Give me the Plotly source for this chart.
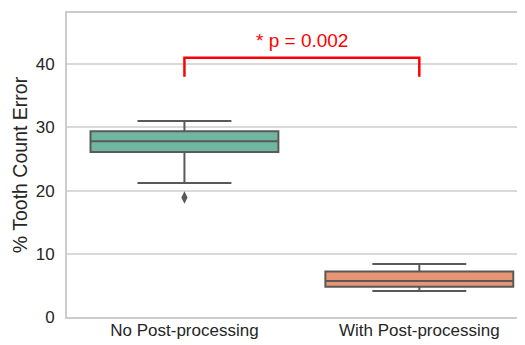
import plotly.graph_objects as go

categories = ["No Post-processing", "With Post-processing"]
q1 = [26.1, 4.8]
median = [27.8, 5.7]
q3 = [29.4, 7.2]
lower_whisker = [21.2, 4.1]
upper_whisker = [31.0, 8.4]
outlier_cat = ["No Post-processing"]
outlier_val = [18.9]
fill_colors = ["#71b6a1", "#e99575"]
bracket_y = [38.0, 41.0, 41.0, 38.0]
annot_text = "* p = 0.002"
annot_y = 43.8
y_ticks = [0, 10, 20, 30, 40]

edge = "#595959"
font_family = "Liberation Sans, Arial, sans-serif"

fig = go.Figure()
for i, c in enumerate(categories):
    fig.add_trace(go.Box(
        x=[c], q1=[q1[i]], median=[median[i]], q3=[q3[i]],
        lowerfence=[lower_whisker[i]], upperfence=[upper_whisker[i]],
        width=0.8, whiskerwidth=0.5, fillcolor=fill_colors[i],
        line=dict(color=edge, width=2), boxpoints=False, showlegend=False,
    ))

fig.add_trace(go.Scatter(
    x=outlier_cat, y=outlier_val, mode="markers",
    marker=dict(symbol="diamond-tall", size=9, color=edge), showlegend=False,
))

fig.add_trace(go.Scatter(
    x=[categories[0], categories[0], categories[1], categories[1]], y=bracket_y,
    mode="lines", line=dict(color="#ff0000", width=2.5), showlegend=False,
))

fig.add_annotation(x=0.5, y=annot_y, text=annot_text, showarrow=False,
                   font=dict(color="#ff0000", size=19, family=font_family))

# page body has an 8px default margin, so the figure is 8px smaller
fig.update_layout(
    width=517, height=337,
    margin=dict(l=59, r=0, t=5, b=28, autoexpand=False),
    paper_bgcolor="white", plot_bgcolor="white",
    font=dict(family=font_family, color="#262626", size=17),
    xaxis=dict(type="category", range=[-0.5, 1.45], showgrid=False,
               showline=True, mirror=True, linecolor="#cccccc", linewidth=2,
               ticks="", automargin=False, ticklabelstandoff=-3,
               tickfont=dict(size=17), zeroline=False),
    yaxis=dict(range=[0, 48.1], tickvals=y_ticks, showgrid=True,
               gridcolor="#d9d9d9", gridwidth=1.5, zeroline=False,
               showline=True, linecolor="#cccccc", linewidth=2,
               ticks="outside", ticklen=7, tickcolor="white", automargin=False,
               tickfont=dict(size=17),
               title=dict(text="% Tooth Count Error", font=dict(size=19.5), standoff=3)),
    hovermode=False,
)

fig.write_html("out.html")
